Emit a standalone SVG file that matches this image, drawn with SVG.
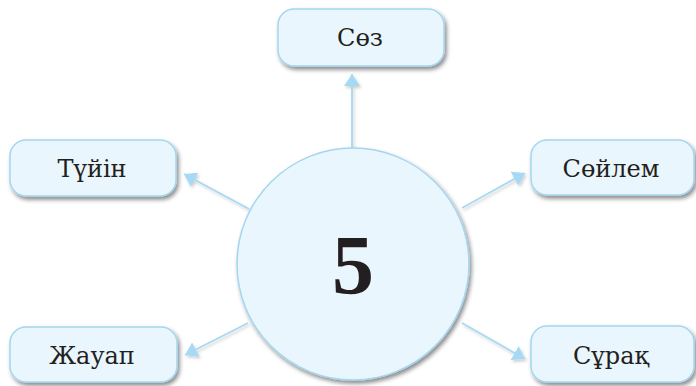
<svg xmlns="http://www.w3.org/2000/svg" width="696" height="386" viewBox="0 0 696 386">
  <defs>
    <filter id="sh" x="-20%" y="-20%" width="150%" height="160%">
      <feDropShadow dx="2" dy="3" stdDeviation="2" flood-color="#000" flood-opacity="0.45"/>
    </filter>
    <filter id="shl" filterUnits="userSpaceOnUse" x="0" y="0" width="696" height="386">
      <feDropShadow dx="1.5" dy="2" stdDeviation="1.5" flood-color="#000" flood-opacity="0.2"/>
    </filter>
    <marker id="ah" markerUnits="userSpaceOnUse" markerWidth="14" markerHeight="16" refX="12" refY="8" orient="auto">
      <path d="M0,0 L12,8 L0,16 z" fill="#a6d9f4"/>
    </marker>
  </defs>
  <style>
    .box { fill: #eaf6fd; stroke: #a4d6f0; stroke-width: 1.5; filter: url(#sh); }
    .lbl { font-family: "DejaVu Serif", "Liberation Serif", serif; font-size: 24px; fill: #231f20; text-anchor: middle; }
    .num { font-family: "Liberation Serif", "DejaVu Serif", serif; font-weight: bold; font-size: 84px; fill: #231f20; text-anchor: middle; }
    .con { stroke: #a6d9f4; stroke-width: 1.8; fill: none; marker-end: url(#ah); filter: url(#shl); }
  </style>
  <rect width="696" height="386" fill="#ffffff"/>
  <g id="connectors">
    <path class="con" d="M352,150 L352,74"/>
    <path class="con" d="M249,209 L184,174"/>
    <path class="con" d="M462,208 L525,173"/>
    <path class="con" d="M248,323 L185,355"/>
    <path class="con" d="M462,323 L525,359"/>
  </g>
  <g id="center">
    <circle cx="353" cy="264" r="116" fill="#eaf6fd" stroke="#a4d6f0" stroke-width="1.5" filter="url(#sh)"/>
    <text class="num" x="353" y="294">5</text>
  </g>
  <g id="soz">
    <rect class="box" x="278" y="9" width="166" height="57" rx="16"/>
    <text class="lbl" x="360" y="46">Сөз</text>
  </g>
  <g id="tuyin">
    <rect class="box" x="10" y="140" width="166" height="56" rx="16"/>
    <text class="lbl" x="92" y="177">Түйін</text>
  </g>
  <g id="soylem">
    <rect class="box" x="531" y="140" width="163" height="55" rx="16"/>
    <text class="lbl" x="611" y="177">Сөйлем</text>
  </g>
  <g id="zhauap">
    <rect class="box" x="10" y="327" width="167" height="55" rx="16"/>
    <text class="lbl" x="92" y="364">Жауап</text>
  </g>
  <g id="surak">
    <rect class="box" x="531" y="326" width="163" height="56" rx="16"/>
    <text class="lbl" x="611" y="364">Сұрақ</text>
  </g>
</svg>
